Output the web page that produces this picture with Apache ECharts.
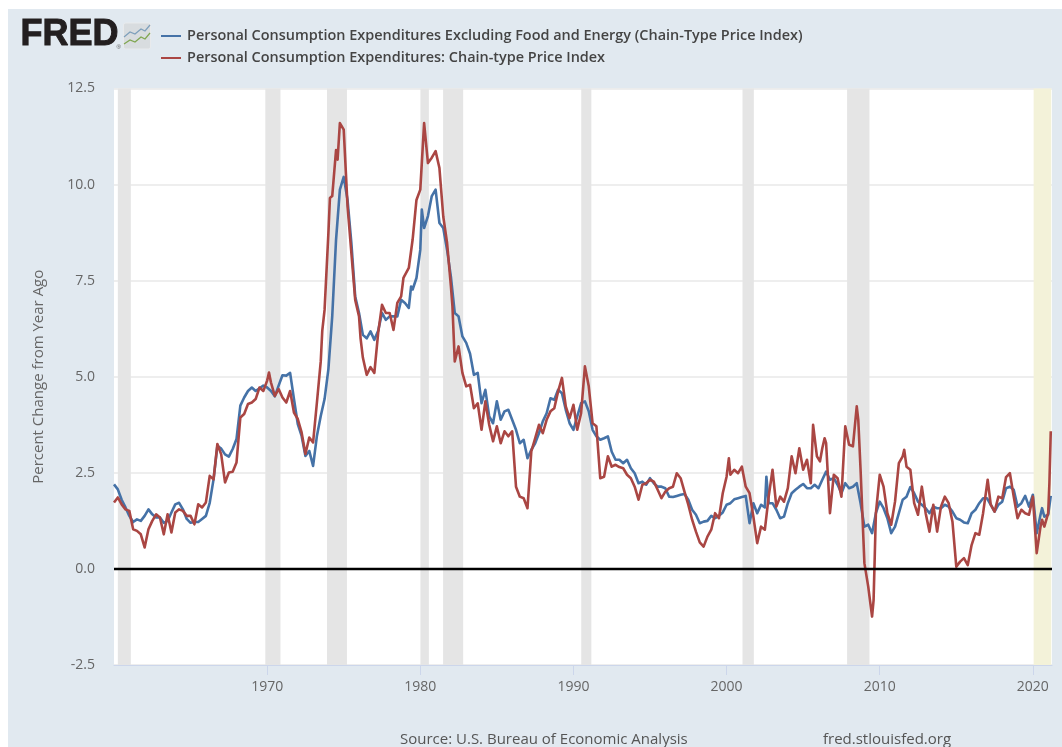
<!DOCTYPE html>
<html><head><meta charset="utf-8">
<style>html,body{margin:0;padding:0;background:#fff;overflow:hidden}
#bg{position:absolute;left:8px;top:9px;width:1054px;height:738px;background:#e1e9f0}
#c{position:absolute;left:0;top:0;width:1062px;height:747px}</style>
<script src="https://cdn.jsdelivr.net/npm/echarts@6/dist/echarts.min.js"></script>
</head><body><div id="bg"></div><div id="c"></div>
<script>
const coreName='Personal Consumption Expenditures Excluding Food and Energy (Chain-Type Price Index)';
const headName='Personal Consumption Expenditures: Chain-type Price Index';
const tickYears=[1970,1980,1990,2000,2010,2020];
const recessionStarts=[1960.25,1969.88,1973.91,1980.01,1981.49,1990.51,2001.04,2007.87];
const recessionEnds=[1961.1,1970.87,1975.21,1980.56,1982.8,1991.17,2001.78,2009.33];
const covidBand=[2020.05,2021.2];
const coreYears=[1960,1960.25,1960.5,1960.75,1961,1961.25,1961.5,1961.75,1962,1962.25,1962.5,1962.75,1963,1963.25,1963.5,1963.75,1964,1964.25,1964.5,1964.75,1965,1965.25,1965.5,1965.75,1966,1966.25,1966.5,1966.75,1967,1967.25,1967.5,1967.75,1968,1968.25,1968.5,1968.75,1969,1969.25,1969.5,1969.75,1970,1970.25,1970.5,1970.75,1971,1971.25,1971.5,1971.75,1972,1972.25,1972.5,1972.75,1973,1973.25,1973.5,1973.75,1974,1974.25,1974.5,1974.75,1975,1975.25,1975.5,1975.75,1976,1976.25,1976.5,1976.75,1977,1977.25,1977.5,1977.75,1978,1978.25,1978.5,1978.75,1979,1979.25,1979.4,1979.5,1979.75,1980,1980.1,1980.25,1980.5,1980.75,1981,1981.25,1981.5,1981.75,1982,1982.25,1982.5,1982.75,1983,1983.25,1983.5,1983.75,1984,1984.25,1984.5,1984.75,1985,1985.25,1985.5,1985.75,1986,1986.25,1986.5,1986.75,1987,1987.25,1987.5,1987.75,1988,1988.25,1988.5,1988.75,1989,1989.25,1989.5,1989.75,1990,1990.25,1990.5,1990.75,1991,1991.25,1991.5,1991.75,1992,1992.25,1992.5,1992.75,1993,1993.25,1993.5,1993.75,1994,1994.25,1994.5,1994.75,1995,1995.25,1995.5,1995.75,1996,1996.25,1996.5,1996.75,1997,1997.25,1997.5,1997.75,1998,1998.25,1998.5,1998.75,1999,1999.25,1999.5,1999.75,2000,2000.25,2000.5,2000.75,2001,2001.25,2001.5,2001.75,2002,2002.25,2002.5,2002.6,2002.75,2003,2003.25,2003.5,2003.75,2004,2004.25,2004.5,2004.75,2005,2005.25,2005.5,2005.75,2006,2006.25,2006.5,2006.75,2007,2007.25,2007.5,2007.75,2008,2008.25,2008.5,2008.75,2009,2009.25,2009.5,2009.75,2010,2010.25,2010.5,2010.75,2011,2011.25,2011.5,2011.75,2012,2012.25,2012.5,2012.75,2013,2013.25,2013.5,2013.75,2014,2014.25,2014.5,2014.75,2015,2015.25,2015.5,2015.75,2016,2016.25,2016.5,2016.75,2017,2017.25,2017.5,2017.75,2018,2018.25,2018.5,2018.75,2019,2019.25,2019.5,2019.75,2020,2020.25,2020.5,2020.6,2020.75,2021,2021.17];
const coreValues=[2.2,2.07,1.8,1.6,1.38,1.22,1.29,1.25,1.38,1.55,1.42,1.34,1.34,1.2,1.25,1.47,1.68,1.72,1.55,1.3,1.2,1.22,1.22,1.3,1.38,1.72,2.33,3.2,3.13,2.98,2.92,3.12,3.38,4.25,4.46,4.63,4.72,4.63,4.7,4.77,4.72,4.63,4.49,4.77,5.04,5.03,5.1,4.42,3.77,3.46,2.94,3.07,2.68,3.46,3.98,4.42,5.2,6.57,8.57,9.87,10.2,9.6,8.48,7.09,6.66,6.09,6,6.18,5.96,6.2,6.66,6.48,6.57,6.57,6.57,7,6.92,6.79,7.35,7.27,7.57,8.3,9.35,8.87,9.18,9.7,9.87,9,8.87,8.3,7.6,6.66,6.57,6.05,5.88,5.6,5.05,5.1,4.31,4.66,3.97,3.79,4.36,3.88,4.1,4.14,3.88,3.62,3.27,3.36,2.88,3.1,3.27,3.53,3.84,4.05,4.44,4.4,4.66,4.57,4.14,3.79,3.62,3.97,4.31,4.36,4.1,3.62,3.45,3.36,3.4,3.45,3.05,2.84,2.84,2.75,2.84,2.62,2.49,2.23,2.27,2.19,2.36,2.23,2.14,2.14,2.1,1.88,1.87,1.9,1.93,1.95,1.8,1.54,1.41,1.19,1.23,1.25,1.38,1.32,1.38,1.47,1.67,1.71,1.81,1.84,1.87,1.9,1.19,1.71,1.45,1.67,1.6,2.4,1.71,1.71,1.54,1.32,1.36,1.71,1.97,2.06,2.14,2.21,2.1,2.1,2.19,2.1,2.32,2.53,2.32,2.36,2.19,1.97,2.23,2.1,2.14,2.23,1.71,1.1,1.15,0.93,1.45,1.75,1.58,1.32,0.93,1.1,1.45,1.8,1.88,2.13,1.97,1.75,1.67,1.58,1.45,1.62,1.58,1.58,1.67,1.62,1.49,1.32,1.28,1.21,1.19,1.45,1.54,1.71,1.84,1.84,1.67,1.49,1.67,1.75,2.1,2.14,2.06,1.62,1.71,1.9,1.62,1.93,0.93,1.41,1.58,1.36,1.41,1.9];
const headYears=[1960,1960.25,1960.5,1960.75,1961,1961.25,1961.5,1961.75,1962,1962.25,1962.5,1962.75,1963,1963.25,1963.5,1963.75,1964,1964.25,1964.5,1964.75,1965,1965.25,1965.5,1965.75,1966,1966.25,1966.5,1966.75,1967,1967.25,1967.5,1967.75,1968,1968.25,1968.5,1968.75,1969,1969.25,1969.5,1969.75,1970,1970.12,1970.25,1970.5,1970.75,1971,1971.25,1971.5,1971.75,1972,1972.25,1972.5,1972.75,1973,1973.25,1973.5,1973.6,1973.75,1974,1974.1,1974.25,1974.5,1974.6,1974.75,1975,1975.25,1975.5,1975.75,1976,1976.1,1976.25,1976.5,1976.75,1977,1977.25,1977.5,1977.6,1977.75,1978,1978.25,1978.5,1978.75,1978.9,1979.25,1979.5,1979.75,1980,1980.25,1980.5,1980.75,1981,1981.25,1981.5,1981.75,1982,1982.1,1982.25,1982.5,1982.75,1983,1983.25,1983.5,1983.75,1984,1984.25,1984.5,1984.75,1985,1985.25,1985.5,1985.75,1986,1986.25,1986.5,1986.75,1987,1987.25,1987.5,1987.75,1988,1988.25,1988.5,1988.75,1989,1989.25,1989.5,1989.75,1990,1990.25,1990.5,1990.75,1991,1991.25,1991.5,1991.75,1992,1992.25,1992.5,1992.75,1993,1993.25,1993.5,1993.75,1994,1994.25,1994.5,1994.75,1995,1995.25,1995.5,1995.75,1996,1996.25,1996.5,1996.75,1997,1997.25,1997.5,1997.75,1998,1998.25,1998.5,1998.75,1999,1999.25,1999.5,1999.75,2000,2000.15,2000.25,2000.5,2000.75,2001,2001.25,2001.5,2001.75,2002,2002.25,2002.5,2002.75,2003,2003.25,2003.5,2003.75,2004,2004.25,2004.5,2004.75,2005,2005.25,2005.5,2005.65,2005.9,2006.1,2006.25,2006.4,2006.5,2006.75,2007,2007.25,2007.5,2007.75,2008,2008.25,2008.5,2008.6,2008.75,2009,2009.25,2009.5,2009.6,2009.75,2010,2010.25,2010.5,2010.75,2011,2011.25,2011.5,2011.6,2011.75,2012,2012.25,2012.5,2012.75,2013,2013.25,2013.5,2013.75,2014,2014.25,2014.5,2014.75,2015,2015.25,2015.5,2015.75,2016,2016.25,2016.5,2016.75,2017.05,2017.25,2017.5,2017.75,2018,2018.25,2018.5,2018.75,2019,2019.25,2019.5,2019.75,2020,2020.25,2020.5,2020.6,2020.75,2021,2021.08,2021.17];
const headValues=[1.73,1.86,1.68,1.55,1.51,1.03,0.99,0.9,0.56,1.03,1.25,1.42,1.34,0.9,1.42,0.95,1.47,1.55,1.51,1.38,1.38,1.16,1.68,1.6,1.73,2.42,2.33,3.25,2.98,2.25,2.51,2.53,2.77,3.94,4.03,4.29,4.33,4.42,4.72,4.63,4.9,5.11,4.85,4.5,4.68,4.46,4.33,4.63,4.07,3.9,3.55,2.99,3.42,3.29,4.33,5.4,6.2,6.74,8.74,9.65,9.7,10.9,10.65,11.6,11.43,9.44,8.22,7,6.57,6,5.5,5.05,5.25,5.1,6.14,6.87,6.92,6.66,6.66,6.22,6.92,7.09,7.57,7.83,8.57,9.6,9.87,11.6,10.56,10.7,10.87,10.43,9.17,8.48,7.35,6.83,5.4,5.79,5.1,4.75,4.79,4.18,4.31,3.62,4.36,3.75,3.32,3.71,3.27,3.58,3.45,3.58,2.14,1.88,1.84,1.58,3.06,3.4,3.75,3.53,3.88,4.1,4.18,4.62,4.97,4.23,3.92,4.27,3.62,4.05,5.27,4.75,3.79,3.71,2.36,2.4,2.93,2.66,2.71,2.65,2.62,2.45,2.36,2.14,1.8,2.19,2.23,2.32,2.27,2.06,1.84,2.01,2.1,2.14,2.49,2.36,2.01,1.67,1.28,0.97,0.69,0.58,0.84,1.02,1.45,1.32,1.97,2.4,2.88,2.45,2.58,2.49,2.66,2.14,1.97,1.36,0.67,1.1,1.02,1.88,2.58,1.62,1.88,1.75,2.1,2.93,2.49,3.14,2.58,2.84,2.23,3.75,2.93,2.8,3.14,3.4,3.27,1.45,2.45,2.36,1.88,3.71,3.23,3.19,4.23,3.88,2.58,0.15,-0.46,-1.24,-0.81,1.45,2.45,2.14,1.45,1.15,1.75,2.75,2.93,3.1,2.66,2.58,1.71,1.41,2.14,1.45,0.97,1.67,0.97,1.62,1.88,1.71,1.23,0.06,0.19,0.28,0.1,0.62,0.93,0.89,1.45,2.32,1.67,1.49,1.88,1.84,2.39,2.49,1.88,1.32,1.54,1.45,1.41,1.88,0.41,1.1,1.28,1.1,1.45,2.23,3.58];
const yTicks={min:-2.5,max:12.5,step:2.5};

const zip=(a,b)=>a.map((v,i)=>[v,b[i]]);
const bandData=recessionStarts.map((s,i)=>[{xAxis:s},{xAxis:recessionEnds[i]}]);
const labelColor='#666';
const font='"Open Sans", sans-serif';
const chart=echarts.init(document.getElementById('c'),null,{renderer:'canvas'});
chart.setOption({
  animation:false,
  backgroundColor:'transparent',
  grid:{left:114,right:10,top:88.5,bottom:82,show:true,backgroundColor:'#fff',borderWidth:0},
  legend:{
    orient:'vertical',left:161,top:29,padding:0,itemWidth:20,itemHeight:2,itemGap:8,icon:'rect',
    data:[coreName,headName],
    textStyle:{color:'#444',fontFamily:font,fontSize:14.45,fontWeight:600,padding:[0,0,0,1]}
  },
  xAxis:{
    type:'value',min:1960,max:2021.25,
    splitLine:{show:false},
    axisLine:{show:true,onZero:false,lineStyle:{color:'#ccd6eb',width:1}},
    axisTick:{show:true,length:10,customValues:tickYears,lineStyle:{color:'#ccd6eb'}},
    axisLabel:{customValues:tickYears,color:labelColor,fontFamily:font,fontSize:14,margin:15,formatter:v=>String(Math.round(v))}
  },
  yAxis:{
    type:'value',min:yTicks.min,max:yTicks.max,interval:yTicks.step,
    name:'Percent Change from Year Ago',nameLocation:'middle',nameRotate:90,nameGap:68,
    nameTextStyle:{color:labelColor,fontFamily:font,fontSize:15},
    axisLine:{show:false},axisTick:{show:false},
    axisLabel:{color:labelColor,fontFamily:font,fontSize:14,margin:19,formatter:v=>v.toFixed(1)},
    splitLine:{show:true,lineStyle:{color:'#e9e9e9',width:1.5}}
  },
  graphic:[
    {type:'text',left:20,top:17,z:10,style:{text:'FRED',fill:'#231f20',stroke:'#231f20',lineWidth:1,font:'bold 36px "Liberation Sans", Arial, sans-serif'}},
    {type:'text',left:116.5,top:44.5,z:10,style:{text:'®',fill:'#555',font:'6px "Liberation Sans", sans-serif'}},
    {type:'rect',z:10,shape:{x:123.5,y:23,width:27,height:26,r:2},style:{fill:'#d8dcdf',stroke:'#e8eaec'}},
    {type:'polyline',z:11,shape:{points:[[124,37],[130,32],[135,34],[141,29],[145,31],[150,25]]},style:{fill:'none',stroke:'#7d9fbb',lineWidth:1.2}},
    {type:'polyline',z:11,shape:{points:[[124,44],[130,40],[135,42],[141,37],[145,39],[150,33]]},style:{fill:'none',stroke:'#7fa650',lineWidth:1.2}},
    {type:'text',left:400,top:732,z:10,style:{text:'Source: U.S. Bureau of Economic Analysis',fill:'#555',font:'15px "Open Sans", sans-serif'}},
    {type:'text',left:823,top:732,z:10,style:{text:'fred.stlouisfed.org',fill:'#555',font:'15px "Open Sans", sans-serif'}}
  ],
  series:[
    {name:'bands',type:'line',data:[],z:1,silent:true,symbol:'none',legendHoverLink:false,
      markArea:{silent:true,itemStyle:{color:'#e5e5e5'},data:bandData}},
    {name:'covid',type:'line',data:[],z:1,silent:true,symbol:'none',
      markArea:{silent:true,itemStyle:{color:'#f3f2d9'},data:[[{xAxis:covidBand[0]},{xAxis:covidBand[1]}]]}},
    {name:coreName,type:'line',data:zip(coreYears,coreValues),z:3,symbol:'none',showSymbol:false,
      lineStyle:{color:'#4572a7',width:2.6,join:'round'},itemStyle:{color:'#4572a7'}},
    {name:headName,type:'line',data:zip(headYears,headValues),z:4,symbol:'none',showSymbol:false,
      lineStyle:{color:'#aa4643',width:2.6,join:'round'},itemStyle:{color:'#aa4643'}},
    {name:'zero',type:'line',data:[],z:5,silent:true,symbol:'none',
      markLine:{silent:true,symbol:'none',label:{show:false},lineStyle:{color:'#000',width:2.4,type:'solid'},data:[{yAxis:0}]}}
  ]
});
</script></body></html>
